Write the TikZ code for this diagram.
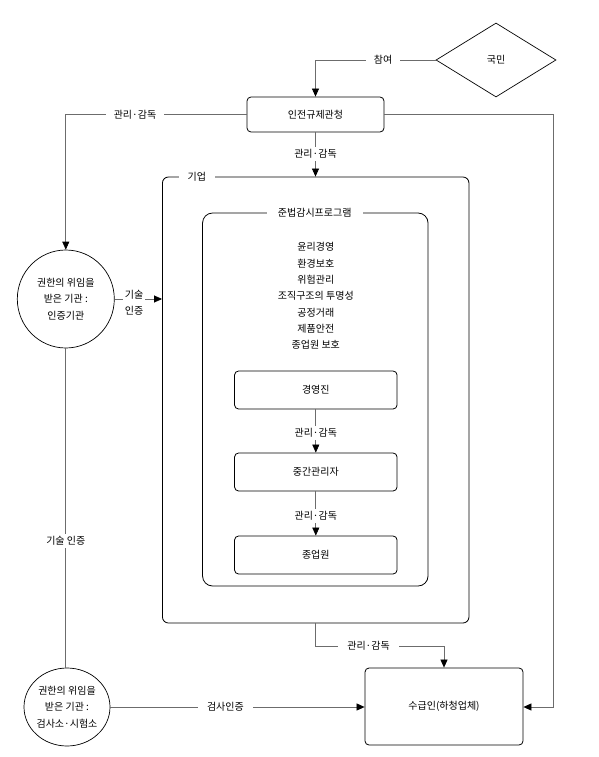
\documentclass[tikz,border=0pt]{standalone}
\usepackage{fontspec}
\setmainfont{Noto Sans CJK KR}
\usetikzlibrary{shapes.geometric,arrows.meta,calc}
\begin{document}
\begin{tikzpicture}[x=1pt,y=1pt,
  font=\fontsize{10}{16.3}\selectfont,
  box/.style={draw=black,line width=0.8pt,rounded corners=4pt,inner sep=0pt},
  conn/.style={draw=gray!85!black,line width=0.7pt},
  arr/.style={conn,-{Triangle[length=8pt,width=7pt,color=black]}},
  lbl/.style={fill=white,inner sep=2pt,text=black},
  circ/.style={draw=black,line width=0.7pt,ellipse,inner sep=0pt,align=center}]
\useasboundingbox (0,0) rectangle (598,-757);
% nodes
\node[diamond,draw=black,line width=0.7pt,minimum width=120pt,minimum height=74pt,inner sep=0pt] (gm) at (496,-60) {국민};
\node[box,minimum width=137pt,minimum height=35pt] (ag) at (315.5,-114.5) {인전규제관청};
\node[box,rounded corners=6pt,minimum width=306.5pt,minimum height=446pt] (corp) at (315.7,-400) {};
\node[box,rounded corners=10pt,minimum width=225.5pt,minimum height=373pt] (prog) at (315.3,-399.5) {};
\node[lbl,inner xsep=9pt] (corpl) at (196.8,-177) {기업};
\node[lbl,inner xsep=11pt] (progl) at (314.7,-213) {준법감시프로그램};
\node[align=center] (list) at (315.8,-296) {윤리경영\\환경보호\\위험관리\\조직구조의 투명성\\공정거래\\제품안전\\종업원 보호};
\node[box,minimum width=162.5pt,minimum height=38pt] (ex) at (315.8,-390) {경영진};
\node[box,minimum width=162.5pt,minimum height=38pt] (mid) at (315.8,-472) {중간관리자};
\node[box,minimum width=162.5pt,minimum height=38pt] (emp) at (315.8,-555) {종업원};
\node[circ,minimum width=97pt,minimum height=98pt] (c1) at (65.8,-299) {권한의 위임을\\받은 기관 :\\인증기관};
\node[circ,minimum width=79pt,minimum height=78pt] (c2) at (67,-707) {권한의 위임을\\받은 기관 :\\검사소·시험소};
\node[box,minimum width=158pt,minimum height=77pt] (sub) at (444,-706.5) {수급인(하청업체)};
% connectors
\coordinate (k1) at (315.5,-60);
\draw[arr] (gm.west) -- (k1) -- (ag.north);
\node[lbl,inner xsep=8pt] (l1) at (383,-60) {참여};
\coordinate (k2) at (c1.north |- ag.west);
\draw[arr] (ag.west) -- (k2) -- (c1.north);
\node[lbl,inner xsep=8pt] (l2) at (135,-115) {관리·감독};
\coordinate (k3) at (553.8,-114.5);
\coordinate (k4) at (553.8,-707);
\draw[arr] (ag.east) -- (k3) -- (k4) -- (sub.east |- k4);
\draw[arr] (ag.south) -- (corp.north -| ag.south);
\node[lbl] (l3) at (315.5,-154) {관리·감독};
\draw[arr] (c1.east |- 0,-299) -- (corp.west |- 0,-299);
\node[lbl,align=center,inner sep=1.5pt,font=\fontsize{10}{16}\selectfont] (l4) at (134,-303) {기술\\인증};
\draw[conn] (c1.south) -- (c2.north -| c1.south);
\node[lbl] (l5) at (65.8,-541) {기술 인증};
\draw[arr] (c2.east |- 0,-707) -- (sub.west |- 0,-707);
\node[lbl,inner xsep=9pt] (l6) at (225.4,-707) {검사인증};
\coordinate (k5) at (315.5,-646);
\draw[arr] (corp.south -| k5) -- (k5) -| (sub.north);
\node[lbl,inner xsep=9pt] (l7) at (368.5,-646) {관리·감독};
\draw[arr] (ex.south) -- (mid.north);
\node[lbl] (l8) at (315.8,-433) {관리·감독};
\draw[arr] (mid.south) -- (emp.north);
\node[lbl] (l9) at (315.8,-516) {관리·감독};
\end{tikzpicture}
\end{document}
